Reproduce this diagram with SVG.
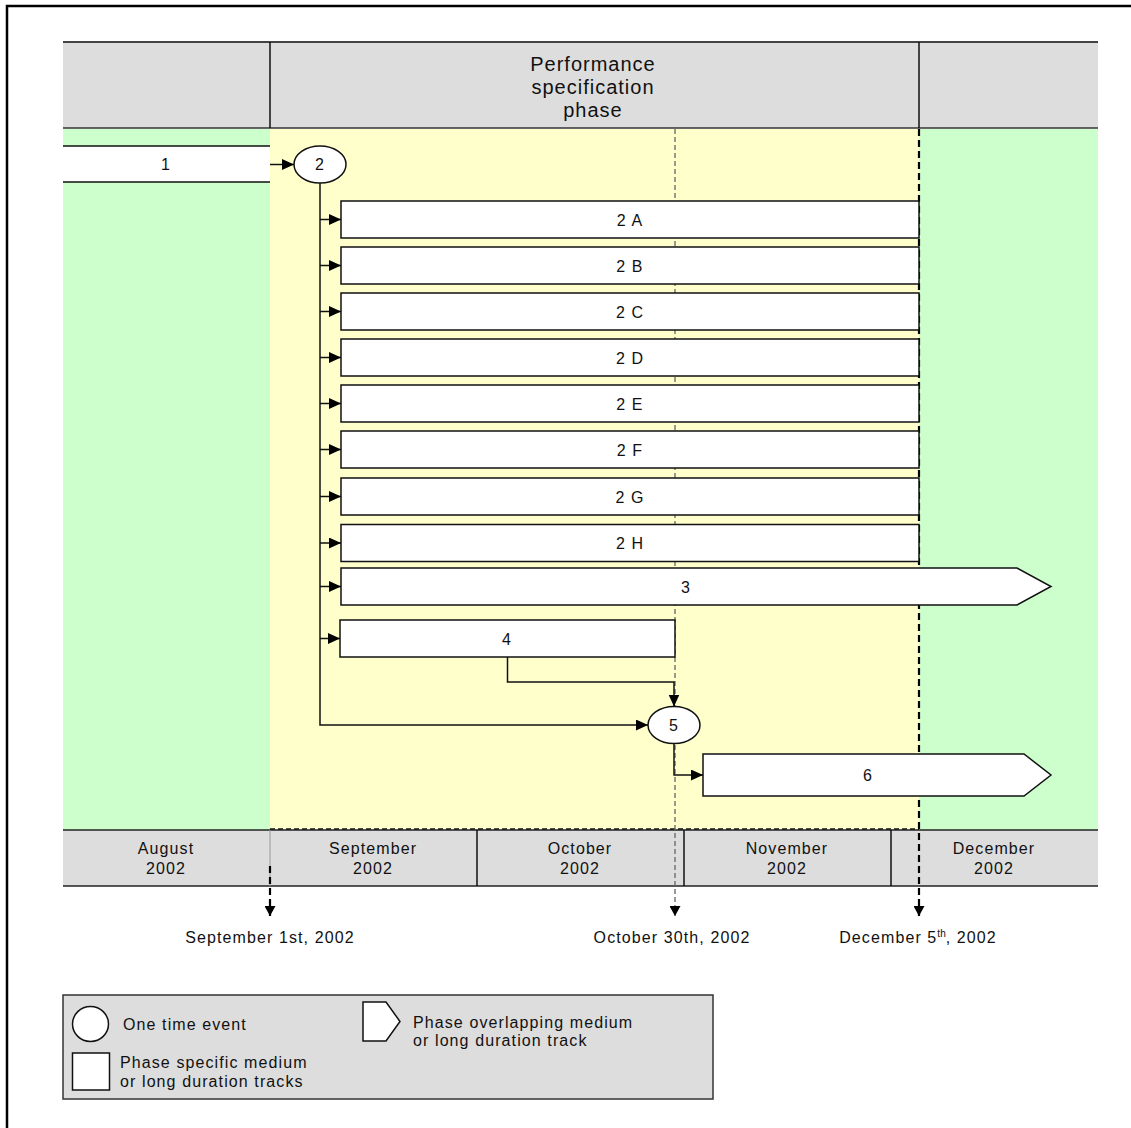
<svg xmlns="http://www.w3.org/2000/svg" width="1131" height="1128" viewBox="0 0 1131 1128">
  <style>
    text { font-family: "Liberation Sans", Arial, sans-serif; font-size: 16px; fill: #111; letter-spacing: 1.1px; }
    .c { text-anchor: middle; }
    .hdr { font-size: 20px; letter-spacing: 1px; }
    .box { fill: #fff; stroke: #111; stroke-width: 1.5; }
    .conn { fill: none; stroke: #111; stroke-width: 1.5; }
    .band { fill: #ddd; }
  </style>
  <defs>
    <marker id="arr" markerUnits="userSpaceOnUse" markerWidth="12" markerHeight="12" refX="12" refY="5.5" orient="auto">
      <path d="M0,0 L12,5.5 L0,11 z" fill="#000"/>
    </marker>
    <marker id="darr" markerUnits="userSpaceOnUse" markerWidth="12" markerHeight="12" refX="5.5" refY="10" orient="0">
      <path d="M0,0 L11,0 L5.5,10 z" fill="#000"/>
    </marker>
  </defs>

  <rect width="1131" height="1128" fill="#fff"/>
  <!-- frame (top and left edges) -->
  <path d="M7,1128 V6 H1131" fill="none" stroke="#000" stroke-width="2.5"/>

  <!-- header band -->
  <g id="header">
    <rect class="band" x="63" y="42" width="1035" height="86"/>
    <line x1="63" y1="42" x2="1098" y2="42" stroke="#444" stroke-width="2"/>
    <line x1="63" y1="128" x2="1098" y2="128" stroke="#333" stroke-width="1.5"/>
    <line x1="270" y1="42" x2="270" y2="128" stroke="#111" stroke-width="1.5"/>
    <line x1="919" y1="42" x2="919" y2="128" stroke="#111" stroke-width="1.5"/>
    <text class="c hdr" x="593" y="71">Performance</text>
    <text class="c hdr" x="593" y="94">specification</text>
    <text class="c hdr" x="593" y="117">phase</text>
  </g>

  <!-- phase backgrounds -->
  <rect x="63" y="129" width="1035" height="701" fill="#cfc"/>
  <rect x="270" y="129" width="649" height="700" fill="#ffc"/>

  <!-- month timeline -->
  <g id="timeline">
    <rect class="band" x="63" y="830" width="1035" height="56"/>
    <line x1="63" y1="830" x2="1098" y2="830" stroke="#222" stroke-width="1.5"/>
    <line x1="63" y1="886" x2="1098" y2="886" stroke="#222" stroke-width="1.5"/>
    <line x1="270" y1="830" x2="270" y2="886" stroke="#999" stroke-width="1"/>
    <line x1="477" y1="830" x2="477" y2="886" stroke="#111" stroke-width="1.5"/>
    <line x1="684" y1="830" x2="684" y2="886" stroke="#111" stroke-width="1.5"/>
    <line x1="891" y1="830" x2="891" y2="886" stroke="#111" stroke-width="1.5"/>
    <text class="c" x="166" y="854">August</text>
    <text class="c" x="166" y="874">2002</text>
    <text class="c" x="373" y="854">September</text>
    <text class="c" x="373" y="874">2002</text>
    <text class="c" x="580" y="854">October</text>
    <text class="c" x="580" y="874">2002</text>
    <text class="c" x="787" y="854">November</text>
    <text class="c" x="787" y="874">2002</text>
    <text class="c" x="994" y="854">December</text>
    <text class="c" x="994" y="874">2002</text>
  </g>

  <!-- date markers -->
  <g id="markers">
    <line x1="270" y1="829" x2="919" y2="829" stroke="#111" stroke-width="1.5" stroke-dasharray="5,3"/>
    <line x1="675" y1="129" x2="675" y2="916" stroke="#666" stroke-width="1.3" stroke-dasharray="5,3" marker-end="url(#darr)"/>
    <line x1="919" y1="129" x2="919" y2="916" stroke="#000" stroke-width="2.2" stroke-dasharray="7,4" marker-end="url(#darr)"/>
    <line x1="270" y1="866" x2="270" y2="916" stroke="#000" stroke-width="2.2" stroke-dasharray="7,4" marker-end="url(#darr)"/>
    <text class="c" x="270" y="943">September 1st, 2002</text>
    <text class="c" x="672" y="943">October 30th, 2002</text>
    <text class="c" x="918" y="943">December 5<tspan dy="-6" font-size="10" letter-spacing="0">th</tspan><tspan dy="6">, 2002</tspan></text>
  </g>

  <!-- tracks and events -->
  <g id="n1">
    <rect x="63" y="146" width="207" height="36" fill="#fff"/>
    <line x1="63" y1="146" x2="270" y2="146" stroke="#111" stroke-width="1.5"/>
    <line x1="63" y1="182" x2="270" y2="182" stroke="#111" stroke-width="1.5"/>
    <text class="c" x="166" y="170">1</text>
  </g>
  <g id="n2">
    <ellipse class="box" cx="320" cy="164.5" rx="26" ry="18.5"/>
    <text class="c" x="320" y="170">2</text>
  </g>
  <g id="n2A"><rect class="box" x="341" y="201" width="578" height="37"/><text class="c" x="630" y="225.5">2 A</text></g>
  <g id="n2B"><rect class="box" x="341" y="247" width="578" height="37"/><text class="c" x="630" y="271.5">2 B</text></g>
  <g id="n2C"><rect class="box" x="341" y="293" width="578" height="37"/><text class="c" x="630" y="317.5">2 C</text></g>
  <g id="n2D"><rect class="box" x="341" y="339" width="578" height="37"/><text class="c" x="630" y="363.5">2 D</text></g>
  <g id="n2E"><rect class="box" x="341" y="385" width="578" height="37"/><text class="c" x="630" y="409.5">2 E</text></g>
  <g id="n2F"><rect class="box" x="341" y="431" width="578" height="37"/><text class="c" x="630" y="455.5">2 F</text></g>
  <g id="n2G"><rect class="box" x="341" y="478" width="578" height="37"/><text class="c" x="630" y="502.5">2 G</text></g>
  <g id="n2H"><rect class="box" x="341" y="524.5" width="578" height="37"/><text class="c" x="630" y="549">2 H</text></g>
  <g id="n3">
    <path class="box" d="M341,568 H1017 L1051,586.5 L1017,605 H341 Z"/>
    <text class="c" x="686" y="592.5">3</text>
  </g>
  <g id="n4">
    <rect class="box" x="340" y="620" width="335" height="37"/>
    <text class="c" x="507" y="644.5">4</text>
  </g>
  <g id="n5">
    <ellipse class="box" cx="674" cy="725" rx="26" ry="18.5"/>
    <text class="c" x="674" y="731">5</text>
  </g>
  <g id="n6">
    <path class="box" d="M703,754 H1024 L1051,775 L1024,796 H703 Z"/>
    <text class="c" x="868" y="781">6</text>
  </g>

  <!-- connectors -->
  <g id="connectors" class="conn">
    <line x1="270" y1="164.5" x2="294" y2="164.5" marker-end="url(#arr)"/>
    <path d="M320,183 V725 H648" marker-end="url(#arr)"/>
    <line x1="320" y1="219.5" x2="341" y2="219.5" marker-end="url(#arr)"/>
    <line x1="320" y1="265.5" x2="341" y2="265.5" marker-end="url(#arr)"/>
    <line x1="320" y1="311.5" x2="341" y2="311.5" marker-end="url(#arr)"/>
    <line x1="320" y1="357.5" x2="341" y2="357.5" marker-end="url(#arr)"/>
    <line x1="320" y1="403.5" x2="341" y2="403.5" marker-end="url(#arr)"/>
    <line x1="320" y1="449.5" x2="341" y2="449.5" marker-end="url(#arr)"/>
    <line x1="320" y1="496.5" x2="341" y2="496.5" marker-end="url(#arr)"/>
    <line x1="320" y1="543" x2="341" y2="543" marker-end="url(#arr)"/>
    <line x1="320" y1="586.5" x2="341" y2="586.5" marker-end="url(#arr)"/>
    <line x1="320" y1="638.5" x2="340" y2="638.5" marker-end="url(#arr)"/>
    <path d="M507.5,657 V682 H674 V706.5" marker-end="url(#arr)"/>
    <path d="M674,743.5 V775 H703" marker-end="url(#arr)"/>
  </g>

  <!-- legend -->
  <g id="legend">
    <rect x="63" y="995" width="650" height="104" fill="#ddd" stroke="#333" stroke-width="1.5"/>
    <ellipse class="box" cx="90.5" cy="1024" rx="18" ry="17.5"/>
    <text x="123" y="1030">One time event</text>
    <rect class="box" x="72.5" y="1053" width="37" height="37"/>
    <text x="120" y="1068">Phase specific medium</text>
    <text x="120" y="1087">or long duration tracks</text>
    <path class="box" d="M363,1002 H386 L400,1021.5 L386,1041 H363 Z"/>
    <text x="413" y="1028">Phase overlapping medium</text>
    <text x="413" y="1046">or long duration track</text>
  </g>
</svg>
